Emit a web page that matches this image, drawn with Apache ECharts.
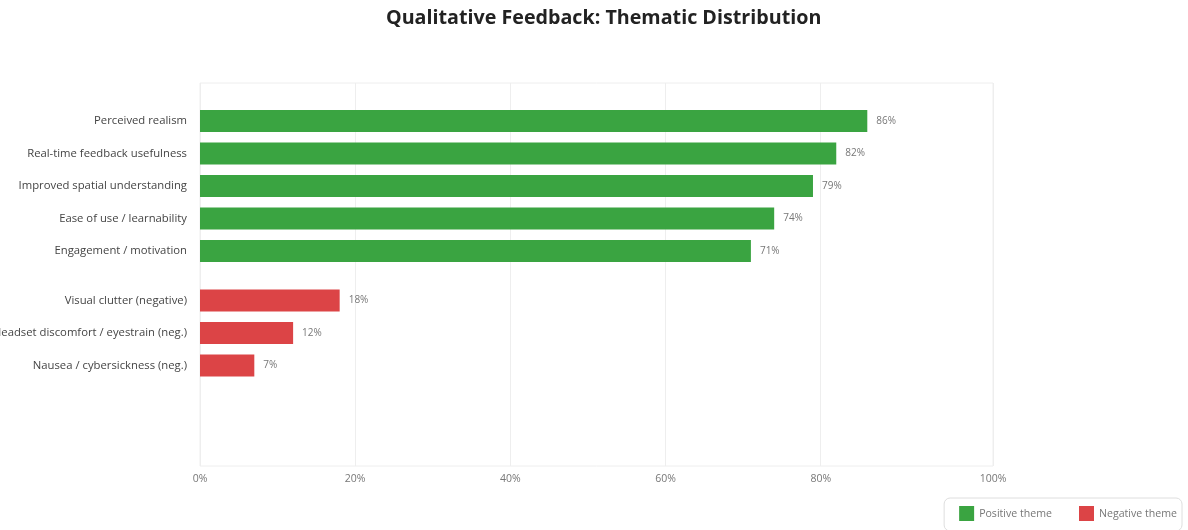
<!DOCTYPE html>
<html>
<head>
<meta charset="utf-8">
<script src="https://cdn.jsdelivr.net/npm/echarts@6/dist/echarts.min.js"></script>
<style>
  html, body { margin: 0; padding: 0; background: #fff; }
  #chart { width: 1188px; height: 530px; }
</style>
</head>
<body>
<div id="chart"></div>
<script>
const titleText = 'Qualitative Feedback: Thematic Distribution';
const positiveCategories = [
  'Perceived realism',
  'Real-time feedback usefulness',
  'Improved spatial understanding',
  'Ease of use / learnability',
  'Engagement / motivation'
];
const positiveValues = [86, 82, 79, 74, 71];
const negativeCategories = [
  'Visual clutter (negative)',
  'Headset discomfort / eyestrain (neg.)',
  'Nausea / cybersickness (neg.)'
];
const negativeValues = [18, 12, 7];
const xTickValues = [0, 20, 40, 60, 80, 100];
const xTickLabels = ['0%', '20%', '40%', '60%', '80%', '100%'];
const seriesNames = ['Positive theme', 'Negative theme'];

const AXIS_MAX = 102.2; // plotted extent of the value axis (edge labelled as 100%)
const GREEN = '#3aa441';
const RED = '#dc4446';
const FONT = '"Open Sans", "Noto Sans", sans-serif';

// tick positions: the last label sits at the plot edge
const tickPositions = xTickValues.map(v => (v === 100 ? AXIS_MAX : v));
function tickLabel(v) {
  const i = tickPositions.indexOf(v);
  return i >= 0 ? xTickLabels[i] : '';
}

const chart = echarts.init(document.getElementById('chart'), null, { renderer: 'canvas' });

const gridLeft = 200, gridRight = 195;
const band = 32.5;

const hiddenX = (idx) => ({
  type: 'value', gridIndex: idx, min: 0, max: AXIS_MAX, show: false
});
const catY = (idx, data) => ({
  type: 'category', gridIndex: idx, data: data, inverse: true,
  axisLine: { show: false }, axisTick: { show: false }, splitLine: { show: false },
  axisLabel: { color: '#444', fontSize: 11.3, fontFamily: FONT, margin: 13 }
});
const barLabel = {
  show: true, position: 'right', distance: 9,
  color: '#777', fontSize: 10, fontFamily: FONT,
  formatter: p => p.value + '%'
};

chart.setOption({
  backgroundColor: '#fff',
  animation: false,
  title: {
    text: titleText,
    left: 381,
    top: 3,
    textStyle: { fontSize: 19.7, fontWeight: 'bold', color: '#222', fontFamily: FONT }
  },
  legend: {
    data: seriesNames,
    right: 6,
    top: 498,
    orient: 'horizontal',
    icon: 'rect',
    itemWidth: 15,
    itemHeight: 15,
    itemGap: 27,
    padding: [8, 5, 10, 15],
    backgroundColor: '#fff',
    borderColor: '#dedede',
    borderWidth: 1,
    borderRadius: 6,
    textStyle: { color: '#777', fontSize: 10.6, fontFamily: FONT }
  },
  grid: [
    { left: gridLeft, right: gridRight, top: 83, bottom: 64, show: true,
      borderColor: '#eeeeee', borderWidth: 1, containLabel: false, outerBoundsMode: 'none' },
    { left: gridLeft, right: gridRight, top: 104.75, height: band * positiveCategories.length,
      containLabel: false, outerBoundsMode: 'none' },
    { left: gridLeft, right: gridRight, top: 284.25, height: band * negativeCategories.length,
      containLabel: false, outerBoundsMode: 'none' }
  ],
  xAxis: [
    {
      type: 'value', gridIndex: 0, min: 0, max: AXIS_MAX,
      axisLine: { show: false },
      axisTick: { show: false, customValues: tickPositions },
      splitLine: { show: true, lineStyle: { color: '#eeeeee', width: 1 } },
      axisLabel: {
        customValues: tickPositions,
        formatter: tickLabel,
        color: '#777', fontSize: 10.5, fontFamily: FONT, margin: 8
      }
    },
    hiddenX(1),
    hiddenX(2)
  ],
  yAxis: [
    { type: 'value', gridIndex: 0, show: false },
    catY(1, positiveCategories),
    catY(2, negativeCategories)
  ],
  series: [
    {
      name: seriesNames[0], type: 'bar', xAxisIndex: 1, yAxisIndex: 1,
      data: positiveValues, barWidth: 22,
      itemStyle: { color: GREEN }, label: barLabel
    },
    {
      name: seriesNames[1], type: 'bar', xAxisIndex: 2, yAxisIndex: 2,
      data: negativeValues, barWidth: 22,
      itemStyle: { color: RED }, label: barLabel
    }
  ]
});
</script>
</body>
</html>
